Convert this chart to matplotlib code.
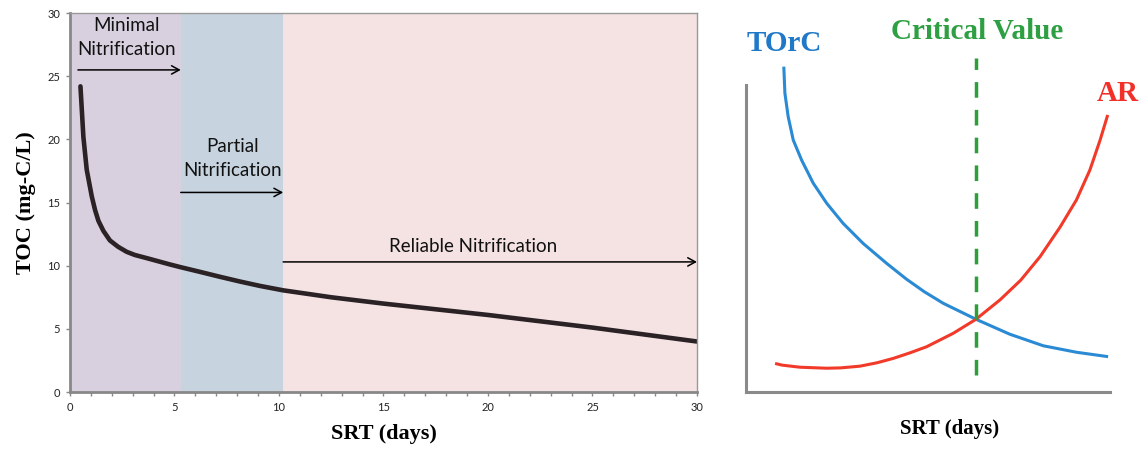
import matplotlib.pyplot as plt
from matplotlib.ticker import MultipleLocator

# left panel: TOC vs SRT
srt = [0.5, 0.64, 0.8, 1.04, 1.2, 1.36, 1.6, 1.91, 2.3, 2.71, 3.1, 3.67, 4.78, 5.3, 6.2, 7.18,
       8.1, 9.09, 10.2, 12.5, 15.0, 17.5, 20.0, 22.5, 25.0, 27.5, 30.0]
toc = [24.2, 20.2, 17.6, 15.5, 14.4, 13.55, 12.75, 12.0, 11.5, 11.1, 10.85, 10.6, 10.1, 9.88,
       9.52, 9.12, 8.76, 8.4, 8.05, 7.5, 7.0, 6.55, 6.1, 5.6, 5.1, 4.55, 4.0]

zone_edges = [0, 5.3, 10.2, 30]
zone_colors = ["#d8d0df", "#c7d4e0", "#f5e3e4"]
zone_labels = ["Minimal\nNitrification", "Partial\nNitrification", "Reliable Nitrification"]
label_xy = [(2.7, 28.1), (7.8, 18.45), (19.3, 11.5)]
arrow_y = [25.5, 15.8, 10.3]
arrow_x0 = [0.38, 5.3, 10.2]

# right panel: schematic curves (arbitrary units)
torc_x = [1.04, 1.07, 1.16, 1.30, 1.53, 1.85, 2.22, 2.67, 3.22, 3.87, 4.41, 4.9, 5.42, 6.32,
          7.25, 8.17, 9.08, 9.95]
torc_y = [9.57, 8.79, 8.10, 7.41, 6.82, 6.14, 5.55, 4.96, 4.37, 3.78, 3.32, 2.95, 2.61, 2.14,
          1.70, 1.36, 1.17, 1.04]
ar_x = [0.80, 1.0, 1.48, 2.22, 2.6, 3.13, 3.6, 4.05, 4.5, 4.96, 5.70, 6.32, 6.98, 7.55, 8.08,
        8.63, 9.08, 9.45, 9.73, 9.94]
ar_y = [0.84, 0.79, 0.73, 0.70, 0.71, 0.76, 0.86, 0.99, 1.15, 1.33, 1.73, 2.14, 2.71, 3.29,
        3.98, 4.85, 5.65, 6.53, 7.41, 8.15]
critical_x = 6.32

fig = plt.figure(figsize=(11.42, 4.49), dpi=100)

ax = fig.add_axes([0.0613, 0.1269, 0.549, 0.844])
for i in range(3):
    ax.axvspan(zone_edges[i], zone_edges[i + 1], color=zone_colors[i], lw=0)
ax.plot(srt, toc, color="#2b2226", lw=3.3, solid_capstyle="round", solid_joinstyle="round")

for i in range(3):
    ax.annotate("", xy=(zone_edges[i + 1], arrow_y[i]), xytext=(arrow_x0[i], arrow_y[i]),
                arrowprops=dict(arrowstyle="->,head_length=0.55,head_width=0.3",
                                color="black", lw=1.1, shrinkA=0, shrinkB=0),
                annotation_clip=False)
    ax.text(label_xy[i][0], label_xy[i][1], zone_labels[i], ha="center", va="center",
            fontsize=13.5, family="Lato", linespacing=1.5, color="#111111")

ax.set_xlim(0, 30)
ax.set_ylim(0, 30)
ax.xaxis.set_major_locator(MultipleLocator(5))
ax.xaxis.set_minor_locator(MultipleLocator(1))
ax.yaxis.set_major_locator(MultipleLocator(5))
ax.tick_params(which="both", direction="out", length=3, width=1, color="#888888",
               labelsize=8, labelcolor="#222222", pad=4)
for lab in ax.get_xticklabels() + ax.get_yticklabels():
    lab.set_family("Lato")
for side in ["left", "bottom"]:
    ax.spines[side].set_color("#888888")
    ax.spines[side].set_linewidth(2)
for side in ["top", "right"]:
    ax.spines[side].set_color("#999999")
    ax.spines[side].set_linewidth(1)
ax.set_xlabel("SRT (days)", fontsize=16, fontweight="bold", family="Liberation Serif", labelpad=8)
ax.set_ylabel("TOC (mg-C/L)", fontsize=16, fontweight="bold", family="Liberation Serif", labelpad=8)

# right panel
ax2 = fig.add_axes([0.6532, 0.1269, 0.3187, 0.7572])
ax2.plot(torc_x, torc_y, color="#2a8ad4", lw=2.2, solid_capstyle="butt", solid_joinstyle="round")
ax2.plot(ar_x, ar_y, color="#f23a2a", lw=2.2, solid_capstyle="butt", solid_joinstyle="round")
ax2.plot([critical_x, critical_x], [0.5, 9.82], color="#2e9e3a", lw=2.5,
         dashes=(4.5, 3.5))
ax2.set_xlim(0, 10)
ax2.set_ylim(0, 10)
ax2.set_xticks([])
ax2.set_yticks([])
ax2.spines["top"].set_visible(False)
ax2.spines["right"].set_visible(False)
for side in ["left", "bottom"]:
    ax2.spines[side].set_color("#8a8a8a")
    ax2.spines[side].set_linewidth(2.2)
ax2.spines["left"].set_bounds(0, 9.03)

ax2.text(1.04, 10.26, "TOrC", color="#1f78c8", fontsize=21, fontweight="bold",
         family="Liberation Serif", ha="center", va="center", clip_on=False)
ax2.text(6.35, 10.59, "Critical Value", color="#2ea043", fontsize=21, fontweight="bold",
         family="Liberation Serif", ha="center", va="center", clip_on=False)
ax2.text(10.22, 8.79, "AR", color="#f2302a", fontsize=21, fontweight="bold",
         family="Liberation Serif", ha="center", va="center", clip_on=False)
ax2.text(5.6, -1.08, "SRT (days)", color="black", fontsize=15, fontweight="bold",
         family="Liberation Serif", ha="center", va="center", clip_on=False)

fig.savefig("out.png", dpi=100)
